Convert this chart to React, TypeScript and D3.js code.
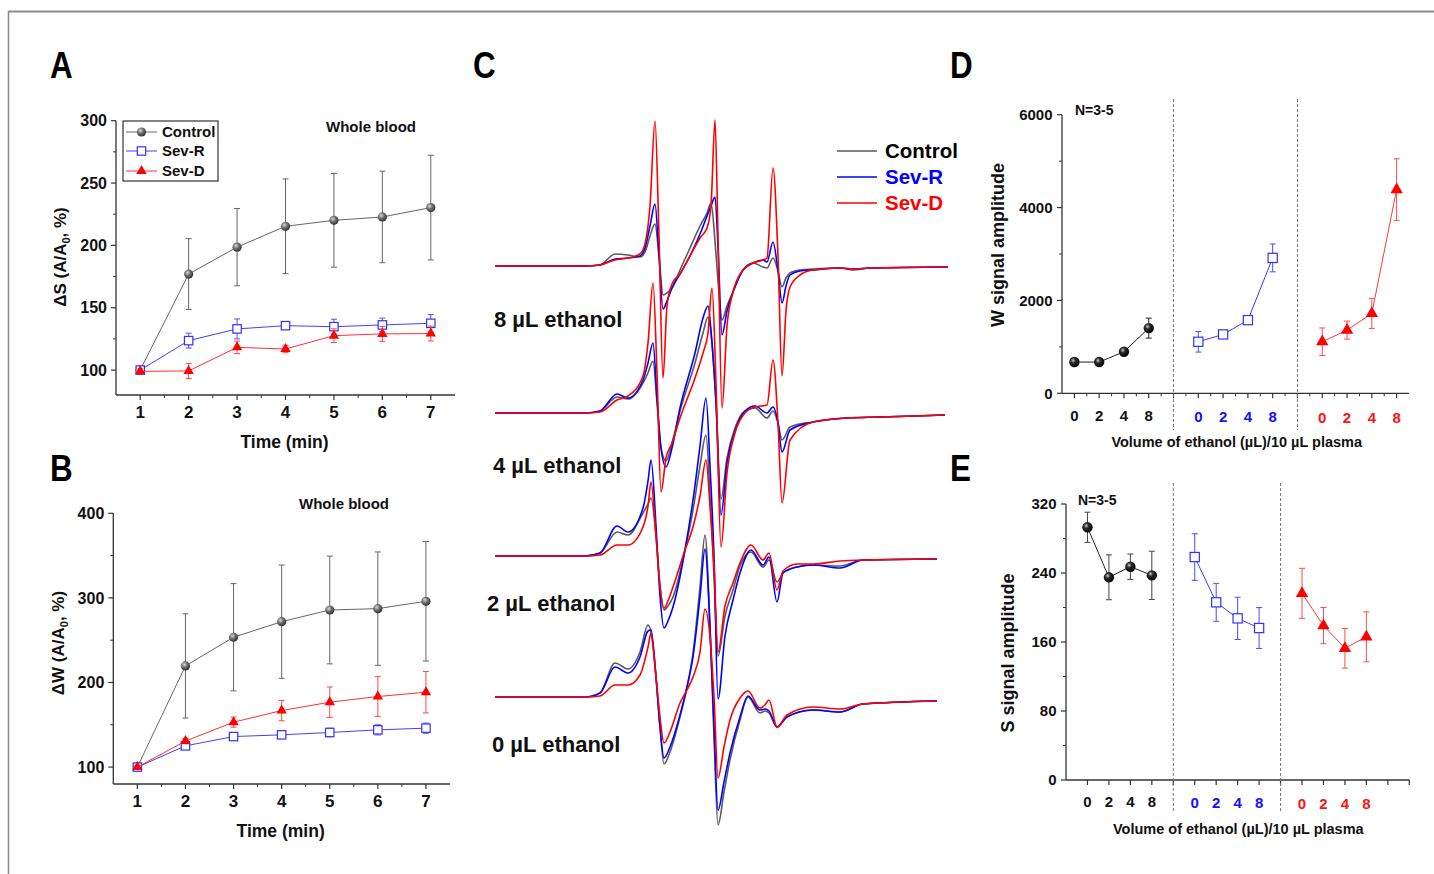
import React from 'react';
import * as d3 from 'd3';

const FONT = '"Liberation Sans", Arial, Helvetica, sans-serif';

// ---------- A / B : time course ----------
const times = [1, 2, 3, 4, 5, 6, 7];
const timeMinor = [1.5, 2.5, 3.5, 4.5, 5.5, 6.5];

const sControl = [100, 177, 198.6, 215.3, 220.1, 222.8, 230.3];
const sControlErr = [0, 28.4, 31, 38, 37.6, 36.7, 42];
const sSevR = [100, 123.6, 133, 135.6, 134.8, 136.2, 137.5];
const sSevRErr = [1.5, 6, 8, 2, 6, 5.5, 7];
const sSevD = [99, 99.3, 118.2, 116.9, 127.6, 129, 129.3];
const sSevDErr = [2, 6, 5, 3, 5.5, 6, 6];

const wControl = [100, 219.6, 253.5, 271.9, 285.7, 287.3, 296];
const wControlErr = [0, 61.6, 63.4, 67, 63.7, 67, 70.6];
const wSevR = [100, 125.1, 136.1, 138.1, 140.9, 144, 146];
const wSevRErr = [1, 3, 3, 4, 5, 6, 6];
const wSevD = [100, 130.7, 153.1, 166.8, 176.7, 183.4, 188.5];
const wSevDErr = [2, 3, 6, 12, 18, 23.5, 24.5];

const aTicks = [100, 150, 200, 250, 300];
const aMinor = [125, 175, 225, 275];
const bTicks = [100, 200, 300, 400];
const bMinor = [150, 250, 350];

// ---------- D / E : dose response ----------
const doses = ['0', '2', '4', '8'];
const groupPos = [[1, 2, 3, 4], [6, 7, 8, 9], [11, 12, 13, 14]];
const separators = [5, 10];

const wAmpControl = [673, 673, 895, 1404];
const wAmpControlErr = [30, 30, 50, 215];
const wAmpSevR = [1110, 1268, 1576, 2916];
const wAmpSevRErr = [222, 50, 70, 300];
const wAmpSevD = [1110, 1361, 1720, 4387];
const wAmpSevDErr = [297, 194, 323, 663];

const sAmpControl = [293, 235, 247.3, 237.3];
const sAmpControlErr = [17.5, 26, 14.7, 28];
const sAmpSevR = [258.5, 206, 187.4, 176.2];
const sAmpSevRErr = [27, 22, 24.5, 23.7];
const sAmpSevD = [216.4, 179, 152.7, 166];
const sAmpSevDErr = [29, 21, 23, 29];

const dTicks = [0, 2000, 4000, 6000];
const dMinor = [1000, 3000, 5000];
const eTicks = [0, 80, 160, 240, 320];
const eMinor = [40, 120, 200, 280];

// ---------- C : EPR spectra (field a.u., amplitude a.u.) ----------
const field8 = [0, 90, 105, 120, 133, 145, 150, 155, 160, 164, 168, 172, 177, 185, 195, 205, 212, 216, 220, 223, 227, 232, 238, 248, 258, 268, 272, 278, 283, 287, 291, 295, 305, 318, 345, 358, 375, 453];
const ctrl8 = [0, 0, 1, 12, 11, 9, 14, 30, 42, 10, -29, -27, -22, -4, 18, 40, 53, 63, 25, -15, -54, -40, -26, -4, 3, -1, -2, 8, -5, -21, -12, -7, -4, -3, -2, -4, -2, -1];
const sevR8 = [0, 0, 1, 7, 8, 10, 18, 40, 62, 10, -43, -35, -22, -8, 10, 32, 50, 60, 69, 20, -69, -45, -26, -4, 3, 6, 4, 24, -5, -37, -20, -9, -5, -4, -2, -3, -2, -1];
const sevD8 = [0, 0, 1, 6, 8, 12, 22, 60, 145, 30, -112, -40, -18, -8, 10, 28, 38, 60, 146, 30, -142, -60, -26, -4, 3, 6, 8, 98, 10, -110, -45, -21, -9, -4, -2, -3, -2, -1];

const field4 = [0, 90, 105, 122, 133, 148, 153, 158, 162, 166, 171, 177, 185, 200, 208, 213, 217, 221, 226, 232, 240, 250, 260, 272, 278, 283, 287, 295, 318, 352, 385, 450];
const ctrl4 = [0, 0, 2, 16, 14, 30, 40, 52, 10, -35, -48, -30, 2, 50, 80, 96, 70, 10, -86, -45, -15, 2, 5, -5, 2, -10, -27, -14, -9, -5, -4, -2];
const sevR4 = [0, 0, 2, 19, 15, 33, 50, 70, 15, -35, -54, -35, 5, 60, 95, 107, 70, 10, -102, -50, -18, 2, 7, 0, 6, -10, -39, -17, -9, -5, -4, -2];
const sevD4 = [0, 0, 1, 13, 17, 37, 70, 130, 40, -79, -45, -30, -5, 35, 60, 80, 125, 30, -134, -60, -20, 0, 6, 8, 53, -10, -90, -27, -9, -5, -4, -2];

const field2 = [0, 90, 105, 122, 133, 148, 153, 156, 161, 165, 169, 173, 178, 190, 198, 205, 211, 215, 219, 223, 230, 238, 245, 256, 268, 274, 282, 288, 302, 318, 345, 368, 442];
const ctrl2 = [0, 0, 3, 24, 21, 43, 52, 58, 20, -30, -54, -50, -41, 6, 46, 90, 121, 60, -20, -100, -60, -34, -10, 4, -11, -4, -26, -17, -11, -9, -10, -4, -3];
const sevR2 = [0, 0, 3, 30, 24, 48, 75, 96, 30, -40, -72, -65, -51, 6, 56, 110, 158, 90, 0, -143, -80, -44, -17, 6, -9, -1, -46, -17, -11, -9, -12, -4, -3];
const sevD2 = [0, 0, 1, 11, 11, 29, 50, 74, 20, -30, -52, -45, -31, 6, 29, 60, 96, 50, -10, -96, -50, -27, -7, 11, -4, 3, -34, -15, -8, -8, -5, -4, -3];

const field0 = [0, 90, 105, 120, 133, 145, 153, 156, 161, 165, 169, 175, 185, 192, 198, 205, 210, 215, 219, 223, 229, 235, 245, 253, 265, 270, 274, 282, 292, 318, 345, 368, 442];
const ctrl0 = [0, 0, 4, 34, 28, 45, 72, 65, 20, -30, -67, -55, -20, 10, 44, 110, 162, 70, -40, -128, -95, -63, -23, 0, -16, -14, -16, -30, -20, -13, -15, -7, -4];
const sevR0 = [0, 0, 4, 30, 24, 40, 66, 67, 20, -30, -61, -50, -18, 10, 40, 100, 148, 70, -30, -113, -85, -56, -20, 1, -13, -12, -14, -30, -20, -13, -15, -7, -4];
const sevD0 = [0, 0, 1, 12, 12, 22, 50, 64, 20, -20, -46, -35, -6, 7, 20, 45, 88, 60, 0, -81, -50, -23, -1, 6, -11, -8, -3, -30, -18, -10, -12, -7, -4];

const spectraLabels = ['8 µL ethanol', '4 µL ethanol', '2 µL ethanol', '0 µL ethanol'];
const spectraOffsets = [0, -147, -290, -431];

const GRAY = '#5a5a5a';
const BLUE = '#0000ff';
const RED = '#ff0000';

type Kind = 'sphere' | 'square' | 'triangle';

function Marker({ kind, cx, cy, color, size }: { kind: Kind; cx: number; cy: number; color: string; size: number }) {
  if (kind === 'sphere') return <circle cx={cx} cy={cy} r={size} fill={color} />;
  if (kind === 'square')
    return <rect x={cx - size} y={cy - size} width={size * 2} height={size * 2} fill="#fff" stroke={color} strokeWidth={1.2} />;
  const d = d3.symbol().type(d3.symbolTriangle).size(size * size * 1.732)() as string;
  return <path d={d} transform={`translate(${cx},${cy})`} fill={color} />;
}

function ErrorBar({ cx, y1, y2, color, cap = 3 }: { cx: number; y1: number; y2: number; color: string; cap?: number }) {
  return (
    <g stroke={color} strokeWidth={1}>
      <line x1={cx} x2={cx} y1={y1} y2={y2} />
      <line x1={cx - cap} x2={cx + cap} y1={y1} y2={y1} />
      <line x1={cx - cap} x2={cx + cap} y1={y2} y2={y2} />
    </g>
  );
}

function AmpTitle({ cx, cy, sym }: { cx: number; cy: number; sym: string }) {
  return (
    <text transform={`translate(${cx},${cy}) rotate(-90)`} textAnchor="middle" fontSize={17} fontWeight="bold" fill="#111">
      {sym} (A/A<tspan fontSize={11} dy={4}>0</tspan>
      <tspan dy={-4}>, %)</tspan>
    </text>
  );
}

type TSeries = { values: number[]; errors: number[]; line: string; err: string; marker: Kind; fill: string };

function TimePanel(props: {
  x0: number; x1: number; yb: number; yt: number; domain: [number, number];
  ticks: number[]; minor: number[]; series: TSeries[]; sym: string; titleX: number; titleY: number;
  wbX: number; wbY: number; legend?: boolean;
}) {
  const { x0, x1, yb, yt, domain, ticks, minor, series, sym, titleX, titleY, wbX, wbY, legend } = props;
  const x = d3.scaleLinear().domain([0.5, 7.5]).range([x0, x1]);
  const y = d3.scaleLinear().domain(domain).range([yb, yt]);
  const line = d3.line<number>().x((_, i) => x(times[i])).y((d) => y(d));
  const axis = '#333';
  return (
    <g>
      <line x1={x0} x2={x0} y1={yb} y2={y(domain[1])} stroke={axis} strokeWidth={1.3} />
      <line x1={x0} x2={x1} y1={yb} y2={yb} stroke={axis} strokeWidth={1.3} />
      {ticks.map((t) => (
        <g key={'yt' + t}>
          <line x1={x0 - 5} x2={x0} y1={y(t)} y2={y(t)} stroke={axis} strokeWidth={1.2} />
          <text x={x0 - 9} y={y(t)} dy="0.36em" textAnchor="end" fontSize={16} fontWeight="bold" fill="#111">{t}</text>
        </g>
      ))}
      {minor.map((t) => (
        <line key={'ym' + t} x1={x0 - 3} x2={x0} y1={y(t)} y2={y(t)} stroke={axis} strokeWidth={1} />
      ))}
      {times.map((t) => (
        <g key={'xt' + t}>
          <line x1={x(t)} x2={x(t)} y1={yb} y2={yb + 5} stroke={axis} strokeWidth={1.2} />
          <text x={x(t)} y={yb + 23} textAnchor="middle" fontSize={17} fontWeight="bold" fill="#111">{t}</text>
        </g>
      ))}
      {timeMinor.map((t) => (
        <line key={'xm' + t} x1={x(t)} x2={x(t)} y1={yb} y2={yb + 3} stroke={axis} strokeWidth={1} />
      ))}
      <text x={(x0 + x1) / 2 - 1} y={yb + 53} textAnchor="middle" fontSize={17.5} fontWeight="bold" fill="#111">Time (min)</text>
      <AmpTitle cx={titleX} cy={titleY} sym={sym} />
      <text x={wbX} y={wbY} fontSize={15} fontWeight="bold" fill="#111">Whole blood</text>
      {series.map((s, si) => (
        <g key={'s' + si}>
          <path d={line(s.values) as string} fill="none" stroke={s.line} strokeWidth={1} />
          {s.values.map((v, i) =>
            s.errors[i] > 0 ? <ErrorBar key={'e' + i} cx={x(times[i])} y1={y(v + s.errors[i])} y2={y(v - s.errors[i])} color={s.err} /> : null
          )}
          {s.values.map((v, i) => (
            <Marker key={'m' + i} kind={s.marker} cx={x(times[i])} cy={y(v)} color={s.fill} size={s.marker === 'sphere' ? 4.6 : s.marker === 'square' ? 4.2 : 5.2} />
          ))}
        </g>
      ))}
      {legend && (
        <g>
          <rect x={123} y={121} width={95} height={60} fill="#fff" stroke="#333" strokeWidth={1.2} />
          {[
            { name: 'Control', s: series[0], yy: 132 },
            { name: 'Sev-R', s: series[1], yy: 151 },
            { name: 'Sev-D', s: series[2], yy: 171 },
          ].map((e) => (
            <g key={e.name}>
              <line x1={126} x2={157} y1={e.yy} y2={e.yy} stroke={e.s.line} strokeWidth={1} />
              <Marker kind={e.s.marker} cx={141.5} cy={e.yy} color={e.s.fill} size={e.s.marker === 'sphere' ? 4.6 : e.s.marker === 'square' ? 4.2 : 5.2} />
              <text x={162} y={e.yy + 5} fontSize={15} fontWeight="bold" fill="#111">{e.name}</text>
            </g>
          ))}
        </g>
      )}
    </g>
  );
}

type DSeries = { values: number[]; errors: number[]; line: string; err: string; marker: Kind; fill: string; label: string };

function DosePanel(props: {
  x0: number; x1: number; pDomain: [number, number]; yb: number; yt: number; domain: [number, number];
  ticks: number[]; minor: number[]; xMajor: number[]; xMinor: number[]; sepTop: number; sepBottom: number;
  series: DSeries[]; title: string; titleX: number; titleY: number; nX: number; nY: number;
  xTitleX: number; xTitleY: number; labelDy: number; ms: number;
}) {
  const p = props;
  const x = d3.scaleLinear().domain(p.pDomain).range([p.x0, p.x1]);
  const y = d3.scaleLinear().domain(p.domain).range([p.yb, p.yt]);
  const axis = '#333';
  return (
    <g>
      <line x1={p.x0} x2={p.x0} y1={p.yb} y2={y(p.domain[1])} stroke={axis} strokeWidth={1.3} />
      <line x1={p.x0} x2={p.x1} y1={p.yb} y2={p.yb} stroke={axis} strokeWidth={1.3} />
      {p.ticks.map((t) => (
        <g key={'yt' + t}>
          <line x1={p.x0 - 5} x2={p.x0} y1={y(t)} y2={y(t)} stroke={axis} strokeWidth={1.2} />
          <text x={p.x0 - 9.5} y={y(t)} dy="0.36em" textAnchor="end" fontSize={15} fontWeight="bold" fill="#111">{t}</text>
        </g>
      ))}
      {p.minor.map((t) => (
        <line key={'ym' + t} x1={p.x0 - 3} x2={p.x0} y1={y(t)} y2={y(t)} stroke={axis} strokeWidth={1} />
      ))}
      {p.xMajor.map((t) => (
        <line key={'xt' + t} x1={x(t)} x2={x(t)} y1={p.yb} y2={p.yb + 5} stroke={axis} strokeWidth={1.2} />
      ))}
      {p.xMinor.map((t) => (
        <line key={'xm' + t} x1={x(t)} x2={x(t)} y1={p.yb} y2={p.yb + 3} stroke={axis} strokeWidth={1} />
      ))}
      {separators.map((s) => (
        <line key={'sep' + s} x1={x(s)} x2={x(s)} y1={p.sepTop} y2={p.sepBottom} stroke="#777" strokeWidth={1} strokeDasharray="3,2" />
      ))}
      {p.series.map((s, gi) =>
        doses.map((lab, i) => (
          <text key={'lab' + gi + i} x={x(groupPos[gi][i])} y={p.yb + p.labelDy + gi} textAnchor="middle" fontSize={15} fontWeight="bold" fill={s.label}>
            {lab}
          </text>
        ))
      )}
      <text x={p.xTitleX} y={p.xTitleY} textAnchor="middle" fontSize={14.5} fontWeight="bold" fill="#111">
        Volume of ethanol (µL)/10 µL plasma
      </text>
      <text transform={`translate(${p.titleX},${p.titleY}) rotate(-90)`} textAnchor="middle" fontSize={18} fontWeight="bold" fill="#111">
        {p.title}
      </text>
      <text x={p.nX} y={p.nY} fontSize={14} fontWeight="bold" fill="#111">N=3-5</text>
      {p.series.map((s, gi) => {
        const line = d3.line<number>().x((_, i) => x(groupPos[gi][i])).y((d) => y(d));
        return (
          <g key={'g' + gi}>
            <path d={line(s.values) as string} fill="none" stroke={s.line} strokeWidth={1} />
            {s.values.map((v, i) => (
              <ErrorBar key={'e' + i} cx={x(groupPos[gi][i])} y1={y(v + s.errors[i])} y2={y(v - s.errors[i])} color={s.err} />
            ))}
            {s.values.map((v, i) => (
              <Marker key={'m' + i} kind={s.marker} cx={x(groupPos[gi][i])} cy={y(v)} color={s.fill}
                size={s.marker === 'sphere' ? p.ms : s.marker === 'square' ? p.ms - 0.6 : p.ms + 1} />
            ))}
          </g>
        );
      })}
    </g>
  );
}

function SpectraPanel() {
  const fx = d3.scaleLinear().domain([0, 453]).range([495, 948]);
  const fy = d3.scaleLinear().domain([0, 100]).range([266, 166]);
  const groups = [
    { field: field8, traces: [ctrl8, sevR8, sevD8] },
    { field: field4, traces: [ctrl4, sevR4, sevD4] },
    { field: field2, traces: [ctrl2, sevR2, sevD2] },
    { field: field0, traces: [ctrl0, sevR0, sevD0] },
  ];
  const colors = [GRAY, BLUE, RED];
  const labelPos = [
    [494, 327],
    [493, 473],
    [487, 611],
    [492, 752],
  ];
  return (
    <g>
      {groups.map((g, gi) => {
        const off = spectraOffsets[gi];
        const line = d3
          .line<number>()
          .x((_, i) => fx(g.field[i]))
          .y((d) => fy(d + off))
          .curve(d3.curveMonotoneX);
        return (
          <g key={'sp' + gi}>
            {g.traces.map((t, ti) => (
              <path key={'t' + ti} d={line(t) as string} fill="none" stroke={colors[ti]} strokeWidth={1.6} strokeLinejoin="round" />
            ))}
          </g>
        );
      })}
      {spectraLabels.map((l, i) => (
        <text key={l} x={labelPos[i][0]} y={labelPos[i][1]} fontSize={22} fontWeight="bold" fill="#111">{l}</text>
      ))}
      {[
        { name: 'Control', c: GRAY, t: '#000', yy: 151 },
        { name: 'Sev-R', c: BLUE, t: BLUE, yy: 177 },
        { name: 'Sev-D', c: RED, t: RED, yy: 203 },
      ].map((e) => (
        <g key={e.name}>
          <line x1={837} x2={877} y1={e.yy} y2={e.yy} stroke={e.c} strokeWidth={1.6} />
          <text x={885} y={e.yy + 7} fontSize={20.5} fontWeight="bold" fill={e.t}>{e.name}</text>
        </g>
      ))}
    </g>
  );
}

export default function App() {
  const aSeries: TSeries[] = [
    { values: sControl, errors: sControlErr, line: '#666', err: '#666', marker: 'sphere', fill: 'url(#ballGray)' },
    { values: sSevR, errors: sSevRErr, line: '#4040ff', err: '#5050ff', marker: 'square', fill: '#3030ff' },
    { values: sSevD, errors: sSevDErr, line: '#ff3030', err: '#ff4a4a', marker: 'triangle', fill: '#ff0000' },
  ];
  const bSeries: TSeries[] = [
    { values: wControl, errors: wControlErr, line: '#666', err: '#666', marker: 'sphere', fill: 'url(#ballGray)' },
    { values: wSevR, errors: wSevRErr, line: '#4040ff', err: '#5050ff', marker: 'square', fill: '#3030ff' },
    { values: wSevD, errors: wSevDErr, line: '#ff3030', err: '#ff4a4a', marker: 'triangle', fill: '#ff0000' },
  ];
  const dSeries: DSeries[] = [
    { values: wAmpControl, errors: wAmpControlErr, line: '#222', err: '#222', marker: 'sphere', fill: 'url(#ballBlack)', label: '#111' },
    { values: wAmpSevR, errors: wAmpSevRErr, line: '#3a3aff', err: '#4a4aff', marker: 'square', fill: '#3030ff', label: '#1010ff' },
    { values: wAmpSevD, errors: wAmpSevDErr, line: '#ff3a3a', err: '#ff4a4a', marker: 'triangle', fill: '#ff0000', label: '#ff1010' },
  ];
  const eSeries: DSeries[] = [
    { values: sAmpControl, errors: sAmpControlErr, line: '#222', err: '#444', marker: 'sphere', fill: 'url(#ballBlack)', label: '#111' },
    { values: sAmpSevR, errors: sAmpSevRErr, line: '#3a3aff', err: '#4a4aff', marker: 'square', fill: '#3030ff', label: '#1010ff' },
    { values: sAmpSevD, errors: sAmpSevDErr, line: '#ff3a3a', err: '#ff4a4a', marker: 'triangle', fill: '#ff0000', label: '#ff1010' },
  ];
  const dMinorX = d3.range(0, 14).map((i) => i + 1.5).filter((v) => v < 14.5);
  return (
    <svg width={1434} height={874} viewBox="0 0 1434 874" style={{ position: 'absolute', left: 0, top: 0, background: '#fff' }} fontFamily={FONT}>
      <defs>
        <radialGradient id="ballGray" cx="0.38" cy="0.35" r="0.7">
          <stop offset="0" stopColor="#d8d8d8" />
          <stop offset="0.45" stopColor="#707070" />
          <stop offset="1" stopColor="#2a2a2a" />
        </radialGradient>
        <radialGradient id="ballBlack" cx="0.38" cy="0.35" r="0.7">
          <stop offset="0" stopColor="#c8c8c8" />
          <stop offset="0.35" stopColor="#2a2a2a" />
          <stop offset="1" stopColor="#000" />
        </radialGradient>
      </defs>
      <rect width={1434} height={874} fill="#fff" />
      <line x1={8.5} x2={1434} y1={11.5} y2={11.5} stroke="#8a8a8a" strokeWidth={2} />
      <line x1={8.5} x2={8.5} y1={11} y2={874} stroke="#8a8a8a" strokeWidth={1.5} />

      {[
        ['A', 50, 78],
        ['C', 473, 78],
        ['D', 950, 78],
        ['B', 50, 481],
        ['E', 950, 481],
      ].map(([l, x, y]) => (
        <text key={l as string} x={0} y={0} transform={`translate(${x},${y}) scale(0.85,1)`} fontSize={37} fontWeight="bold" fill="#000">
          {l}
        </text>
      ))}

      <TimePanel x0={116} x1={455} yb={395} yt={120.7} domain={[80, 300]} ticks={aTicks} minor={aMinor} series={aSeries}
        sym="ΔS" titleX={66} titleY={257} wbX={326} wbY={132} legend />
      <TimePanel x0={113.3} x1={450} yb={784} yt={513.3} domain={[80, 400]} ticks={bTicks} minor={bMinor} series={bSeries}
        sym="ΔW" titleX={64} titleY={643} wbX={299} wbY={509} />

      <SpectraPanel />

      <DosePanel x0={1062} x1={1409} pDomain={[0.5, 14.5]} yb={393.3} yt={114.7} domain={[0, 6000]} ticks={dTicks} minor={dMinor}
        xMajor={d3.range(1, 15)} xMinor={dMinorX} sepTop={99} sepBottom={430} series={dSeries} title="W signal amplitude"
        titleX={1004} titleY={245} nX={1075} nY={115} xTitleX={1236.7} xTitleY={447} labelDy={28} ms={5.2} />
      <DosePanel x0={1066} x1={1409.3} pDomain={[0, 16]} yb={780} yt={504} domain={[0, 320]} ticks={eTicks} minor={eMinor}
        xMajor={d3.range(1, 17)} xMinor={[]} sepTop={483} sepBottom={813} series={eSeries} title="S signal amplitude"
        titleX={1014} titleY={653} nX={1078} nY={505} xTitleX={1238.3} xTitleY={834} labelDy={27} ms={5.2} />
    </svg>
  );
}
